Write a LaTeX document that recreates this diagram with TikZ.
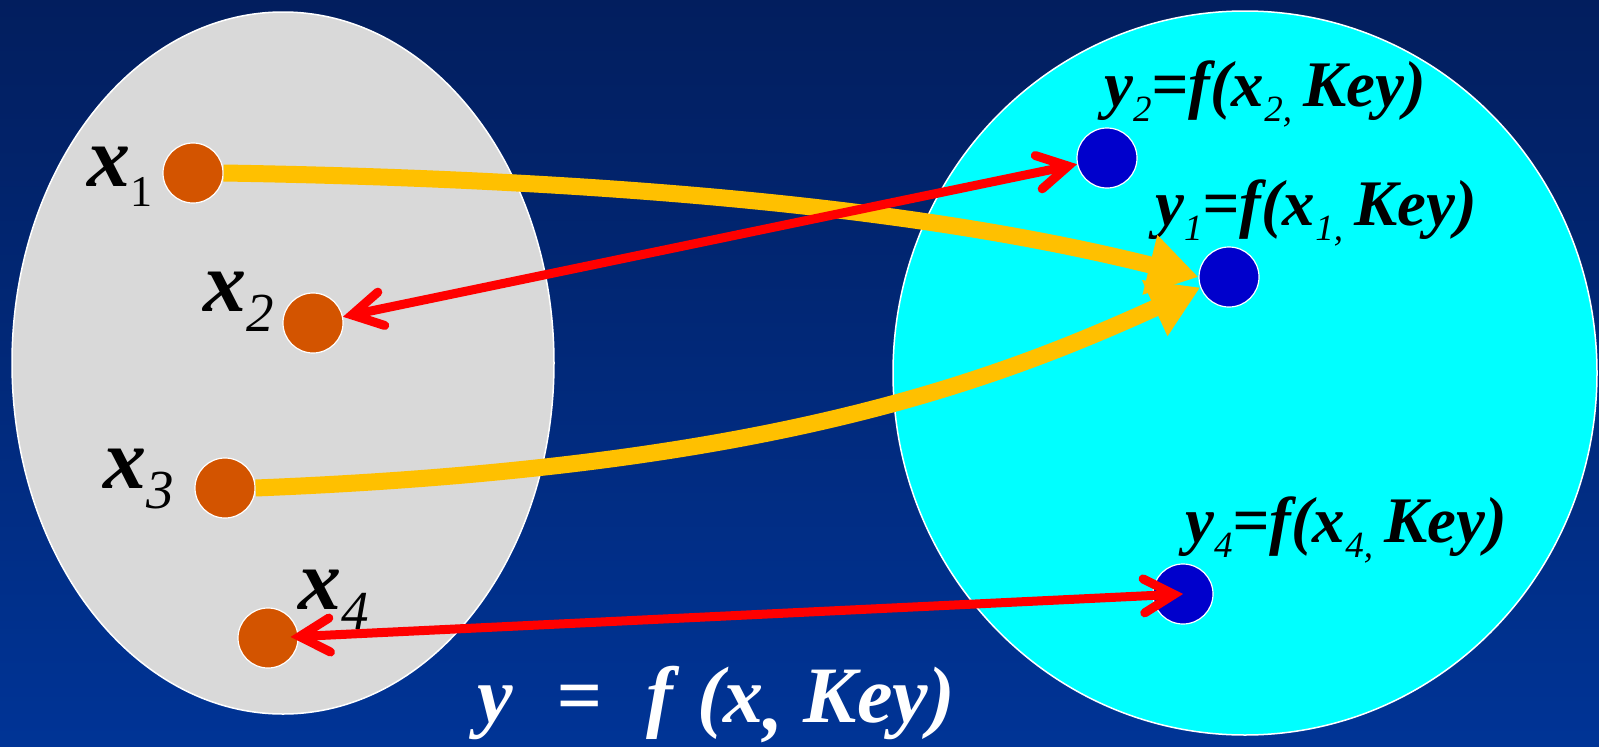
\documentclass[tikz,border=0pt]{standalone}
\usepackage{fontspec}
\setmainfont{Liberation Serif}
\newfontfamily\lblfont{Liberation Serif}
\usepackage{xcolor}
\usetikzlibrary{shapes.geometric, arrows.meta, positioning}

\definecolor{bgtop}{RGB}{2,30,94}
\definecolor{bgbot}{RGB}{0,52,150}
\definecolor{setgray}{RGB}{217,217,217}
\definecolor{setcyan}{RGB}{0,255,255}
\definecolor{dotorange}{RGB}{211,84,0}
\definecolor{dotblue}{RGB}{0,0,204}
\definecolor{mapyellow}{RGB}{255,192,0}
\definecolor{linkred}{RGB}{255,0,0}

% lowered index: size, text
\newcommand{\idx}[2]{\raisebox{-0.23em}{\fontsize{#1}{#1}\selectfont\mdseries #2}}

\begin{document}
\begin{tikzpicture}[
    x=1pt, y=-1pt,
    setshape/.style={ellipse, draw=white, line width=1.5pt, inner sep=0pt},
    plain/.style={circle, draw=white, fill=dotorange, line width=1.2pt, minimum size=60pt, inner sep=0pt},
    cipher/.style={circle, draw=white, fill=dotblue, line width=1.2pt, minimum size=60pt, inner sep=0pt},
    xlbl/.style={font=\lblfont\fontsize{86}{86}\selectfont\bfseries\itshape, inner sep=0pt},
    ylbl/.style={font=\lblfont\fontsize{65}{65}\selectfont\bfseries\itshape, inner sep=0pt},
    map/.style={line width=17pt, draw=mapyellow, -{Triangle[length=50pt, width=58pt]}},
    link/.style={line width=9pt, draw=linkred, line cap=round,
        {Straight Barb[length=30pt, width=34pt, line cap=round]}-{Straight Barb[length=30pt, width=34pt, line cap=round]}}
]

% Background
\useasboundingbox (0,0) rectangle (1599,747);
\shade[top color=bgtop, bottom color=bgbot] (0,0) rectangle (1599,747);

% Sets
\node[setshape, fill=setgray, minimum width=542pt, minimum height=702pt] (setX) at (283,363) {};
\node[setshape, fill=setcyan, minimum width=704pt, minimum height=724pt] (setY) at (1245,373) {};

% Plaintext points
\node[plain] (x1) at (193,173) {};
\node[plain] (x2) at (313,323) {};
\node[plain] (x3) at (225,488) {};
\node[plain] (x4) at (268,638) {};

% Ciphertext points
\node[cipher] (y2) at (1107,158) {};
\node[cipher] (y1) at (1229,277) {};
\node[cipher] (y4) at (1183,594) {};

% Point labels
\node[xlbl, left=10pt of x1, yshift=-4pt] (lx1) {x\idx{44}{\upshape 1}};
\node[xlbl, left=8pt of x2, yshift=21pt] (lx2) {x\idx{55}{2}};
\node[xlbl, left=20pt of x3, yshift=9pt] (lx3) {x\idx{55}{3}};
\node[xlbl, above right=-13pt and 9pt of x4] (lx4) {x\idx{55}{4}};

\node[ylbl, above=0pt of y2, xshift=158pt] (ly2) {y\idx{37}{2}=f(x\idx{37}{2,}\,Key)};
\node[ylbl, above=0pt of y1, xshift=87pt] (ly1) {y\idx{37}{1}=f(x\idx{37}{1,}\,Key)};
\node[ylbl, above=0pt of y4, xshift=163pt] (ly4) {y\idx{37}{4}=f(x\idx{37}{4,}\,Key)};

% Mapping arrows
\draw[map] (x1.east) .. controls +(480,8) and +(-220,-55) .. (y1.west);
\draw[map] (x3.east) .. controls +(500,-20) and +(-220,100) .. (y1.200);

% Collision links
\draw[link] (x2) -- (y2);
\draw[link, shorten <=-8pt] (x4) -- (y4.center);

% Formula
\node[font=\lblfont\fontsize{80}{80}\selectfont\bfseries\itshape, text=white, inner sep=0pt, anchor=base] (fx) at (716,722)
    {y\hspace{0.55em}=\hspace{0.55em}f\hspace{0.3em}(x\raisebox{-0.1em}{,}\hspace{0.25em}Key)};

\end{tikzpicture}
\end{document}
